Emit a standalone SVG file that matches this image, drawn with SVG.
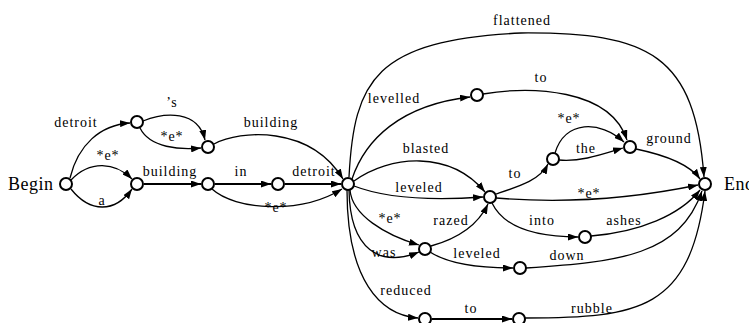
<svg xmlns="http://www.w3.org/2000/svg" width="749" height="323" viewBox="0 0 749 323">
<style>
.e{fill:none;stroke:#000;stroke-width:1.3;marker-end:url(#a)}
.b{stroke-width:2.2}
.n{fill:#fff;stroke:#000;stroke-width:2}
.l{font-family:"Liberation Serif","Times New Roman",serif;font-size:14px;letter-spacing:1px;text-anchor:middle;fill:#000}
.t{font-family:"Liberation Serif","Times New Roman",serif;font-size:18px;letter-spacing:0.5px;fill:#000}
</style>
<defs>
<marker id="a" viewBox="0 0 10 7" refX="10" refY="3.5" markerWidth="10" markerHeight="7" markerUnits="userSpaceOnUse" orient="auto"><path d="M0,0 L10,3.5 L0,7 z" fill="#000"/></marker>
</defs>
<rect width="749" height="323" fill="#fff"/>
<g id="connectors">
<path class="e" d="M70,178 C78,145 100,125 130,123"/>
<path class="e" d="M71,180 C90,160 115,162 132,179"/>
<path class="e" d="M71,189 C90,213 115,213 132,189"/>
<path class="e" d="M143,121 C165,112 198,110 205,140"/>
<path class="e" d="M140,128 C150,148 180,150 201,148"/>
<path class="e" d="M214,144 C240,130 310,125 343,179"/>
<path class="e b" d="M144,184 L201,184"/>
<path class="e b" d="M215,184 L271,184"/>
<path class="e b" d="M285,184 L341,184"/>
<path class="e" d="M212,189 C235,210 300,215 342,189"/>
<path class="e" d="M349,177 C354,80 375,40 521,33 C650,32 695,55 704,177"/>
<path class="e" d="M352,179 C365,140 400,105 470,97"/>
<path class="e" d="M483,94 C530,86 610,88 627,140"/>
<path class="e" d="M354,181 C390,155 450,150 485,192"/>
<path class="e" d="M354,186 C390,200 440,200 483,197"/>
<path class="e" d="M496,194 C520,186 540,180 548,164"/>
<path class="e" d="M555,153 C565,120 600,120 624,142"/>
<path class="e" d="M559,160 C580,162 600,155 623,148"/>
<path class="e" d="M636,149 C665,155 690,165 700,179"/>
<path class="e" d="M496,198 C580,205 650,195 698,185"/>
<path class="e" d="M492,203 C505,230 540,237 578,237"/>
<path class="e" d="M591,236 C640,232 680,215 700,190"/>
<path class="e" d="M350,190 C352,215 385,235 419,245"/>
<path class="e" d="M349,190 C350,250 380,268 419,252"/>
<path class="e" d="M431,246 C460,238 478,225 488,204"/>
<path class="e" d="M430,252 C450,265 480,268 513,268"/>
<path class="e" d="M526,268 C620,262 680,255 702,191"/>
<path class="e" d="M347,190 C347,280 380,315 418,318"/>
<path class="e b" d="M432,319 L512,319"/>
<path class="e" d="M525,318 C640,318 690,310 705,191"/>
</g>
<g id="labels">
<text class="l" x="76" y="127">detroit</text>
<text class="l" x="108" y="160">*e*</text>
<text class="l" x="102" y="205">a</text>
<text class="l" x="172" y="107">’s</text>
<text class="l" x="172" y="141">*e*</text>
<text class="l" x="170" y="176">building</text>
<text class="l" x="271" y="127">building</text>
<text class="l" x="241" y="176">in</text>
<text class="l" x="314" y="176">detroit</text>
<text class="l" x="276" y="212">*e*</text>
<text class="l" x="522" y="25">flattened</text>
<text class="l" x="541" y="82">to</text>
<text class="l" x="394" y="103">levelled</text>
<text class="l" x="426" y="153">blasted</text>
<text class="l" x="419" y="192">leveled</text>
<text class="l" x="515" y="178">to</text>
<text class="l" x="390" y="223">*e*</text>
<text class="l" x="451" y="225">razed</text>
<text class="l" x="384" y="257">was</text>
<text class="l" x="477" y="258">leveled</text>
<text class="l" x="406" y="295">reduced</text>
<text class="l" x="471" y="313">to</text>
<text class="l" x="542" y="225">into</text>
<text class="l" x="624" y="225">ashes</text>
<text class="l" x="567" y="260">down</text>
<text class="l" x="592" y="313">rubble</text>
<text class="l" x="569" y="123">*e*</text>
<text class="l" x="586" y="153">the</text>
<text class="l" x="669" y="143">ground</text>
<text class="l" x="589" y="198">*e*</text>
</g>
<g id="begin"><circle class="n" cx="66" cy="184" r="6"/><text class="t" x="8" y="190">Begin</text></g>
<g id="n_detroit"><circle class="n" cx="137" cy="122" r="6"/></g>
<g id="n_s"><circle class="n" cx="208" cy="147" r="6"/></g>
<g id="n_building"><circle class="n" cx="137" cy="184" r="6"/></g>
<g id="n_in"><circle class="n" cx="208" cy="184" r="6"/></g>
<g id="n_detroit2"><circle class="n" cx="278" cy="184" r="6"/></g>
<g id="hub"><circle class="n" cx="348" cy="184" r="6"/></g>
<g id="n_levelled"><circle class="n" cx="477" cy="95" r="6"/></g>
<g id="n_blasted"><circle class="n" cx="490" cy="197" r="6"/></g>
<g id="n_to"><circle class="n" cx="553" cy="159" r="6"/></g>
<g id="n_ground"><circle class="n" cx="630" cy="147" r="6"/></g>
<g id="n_razed"><circle class="n" cx="425" cy="249" r="6"/></g>
<g id="n_into"><circle class="n" cx="585" cy="237" r="6"/></g>
<g id="n_down"><circle class="n" cx="520" cy="268" r="6"/></g>
<g id="n_reduced"><circle class="n" cx="425" cy="319" r="6"/></g>
<g id="n_rubble"><circle class="n" cx="519" cy="319" r="6"/></g>
<g id="end"><circle class="n" cx="705" cy="184" r="6"/><text class="t" x="724" y="190">End</text></g>
</svg>
